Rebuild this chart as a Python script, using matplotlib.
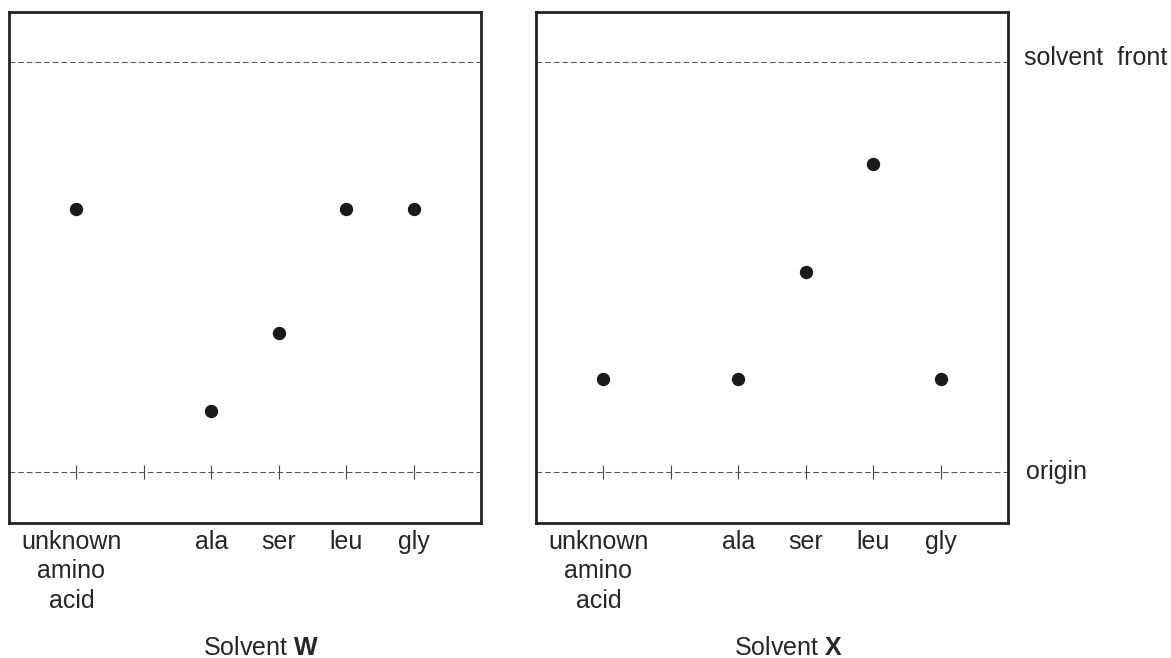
import matplotlib
matplotlib.use("Agg")
import matplotlib.pyplot as plt
from matplotlib.transforms import ScaledTranslation

plt.rcParams['font.family'] = ['Liberation Sans', 'DejaVu Sans']
plt.rcParams['mathtext.fontset'] = 'custom'
plt.rcParams['mathtext.rm'] = 'Liberation Sans'
plt.rcParams['mathtext.bf'] = 'Liberation Sans:bold'

# ---- data ----
spot_labels = ["unknown\namino\nacid", "ala", "ser", "leu", "gly"]
spot_lanes = [0, 2, 3, 4, 5]
mark_lanes = [0, 1, 2, 3, 4, 5]
rf_W = [0.641, 0.149, 0.340, 0.641, 0.641]
rf_X = [0.228, 0.228, 0.489, 0.751, 0.228]
panel_titles = [r"Solvent $\mathbf{W}$", r"Solvent $\mathbf{X}$"]
front_rf = 1.0
origin_rf = 0.0

W, H = 1171, 658
fig = plt.figure(figsize=(W / 100, H / 100), dpi=100)


def rect(l, t, r, b):
    return [l / W, 1 - b / H, (r - l) / W, (b - t) / H]


axL = fig.add_axes(rect(9, 12, 481, 523))
axR = fig.add_axes(rect(536, 12, 1008, 523))

txt = '#262626'
for ax, rf, title in [(axL, rf_W, panel_titles[0]), (axR, rf_X, panel_titles[1])]:
    ax.set_xlim(-1, 6)
    ax.set_ylim(-0.124, 1.122)
    for s in ax.spines.values():
        s.set_linewidth(2.0)
        s.set_color('#222222')
    ax.axhline(front_rf, color='#555555', lw=0.75, linestyle=(0, (5.5, 2.8)))
    ax.axhline(origin_rf, color='#555555', lw=0.75, linestyle=(0, (5.5, 2.8)))
    ax.plot(mark_lanes, [origin_rf] * len(mark_lanes), linestyle='none', marker='|',
            ms=9.4, mew=0.8, color='#444444')
    ax.plot(spot_lanes, rf, linestyle='none', marker='o', ms=8.6,
            color='#1a1a1a', mec='#1a1a1a')
    ax.set_yticks([])
    ax.set_xticks(spot_lanes, spot_labels)
    ax.tick_params(axis='x', length=0, pad=5, labelsize=18, labelcolor=txt)
    labs = ax.get_xticklabels()
    for lab in labs:
        lab.set_linespacing(1.28)
    labs[0].set_transform(labs[0].get_transform() +
                          ScaledTranslation(-5 / 100, 0, fig.dpi_scale_trans))
    ax.text(0.534, -0.258, title, transform=ax.transAxes, ha='center',
            va='baseline', fontsize=18, color=txt)

axR.annotate("solvent  front", xy=(1, front_rf), xycoords=axR.get_yaxis_transform(),
             xytext=(16, -3), textcoords='offset pixels', ha='left', va='baseline',
             fontsize=18, color=txt, annotation_clip=False)
axR.annotate("origin", xy=(1, origin_rf), xycoords=axR.get_yaxis_transform(),
             xytext=(18, -7), textcoords='offset pixels', ha='left', va='baseline',
             fontsize=18, color=txt, annotation_clip=False)

fig.savefig("out.png", dpi=100)
